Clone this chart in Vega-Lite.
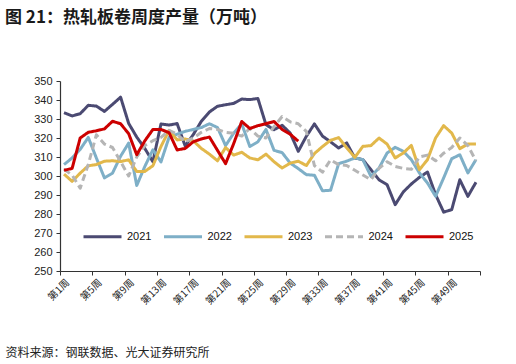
{
  "$schema": "https://vega.github.io/schema/vega-lite/v6.json",
  "width": 420,
  "height": 190,
  "autosize": "none",
  "padding": {"left": 60, "top": 81, "right": 36, "bottom": 93},
  "background": "white",
  "title": {
    "text": "图 21：热轧板卷周度产量（万吨）",
    "anchor": "start",
    "frame": "group",
    "dx": -55,
    "offset": 31,
    "baseline": "bottom",
    "font": "Noto Sans CJK SC",
    "fontSize": 17,
    "fontWeight": "bold",
    "color": "#1a1a1a"
  },
  "data": {
    "values": [
      {"week": 1, "2021": 333.3, "2022": 306, "2023": 301, "2024": 303.5, "2025": 303},
      {"week": 2, "2021": 331.6, "2022": 309.5, "2023": 297.2, "2024": 300.5, "2025": 304},
      {"week": 3, "2021": 332.8, "2022": 314, "2023": 301.5, "2024": 293.6, "2025": 320},
      {"week": 4, "2021": 337.2, "2022": 320.3, "2023": 305.4, "2024": 306, "2025": 323},
      {"week": 5, "2021": 336.8, "2022": 309.5, "2023": 306, "2024": 321.7, "2025": 323.8},
      {"week": 6, "2021": 334, "2022": 299, "2023": 307.8, "2024": 316.8, "2025": 324.8},
      {"week": 7, "2021": 337.7, "2022": 301.5, "2023": 308, "2024": 315, "2025": 328.8},
      {"week": 8, "2021": 341.5, "2022": 310.4, "2023": 307.6, "2024": 307.6, "2025": 327.5},
      {"week": 9, "2021": 327.7, "2022": 317.3, "2023": 308.5, "2024": 300, "2025": 322.3},
      {"week": 10, "2021": 320.5, "2022": 295, "2023": 302.4, "2024": 310, "2025": 311.2},
      {"week": 11, "2021": 314.5, "2022": 305, "2023": 302.4, "2024": 316, "2025": 318.5},
      {"week": 12, "2021": 307.5, "2022": 313.8, "2023": 305.4, "2024": 318.6, "2025": 324.5},
      {"week": 13, "2021": 327.4, "2022": 307.4, "2023": 315.5, "2024": 320.3, "2025": 324.5},
      {"week": 14, "2021": 326.8, "2022": 320.3, "2023": 324, "2024": 324, "2025": 322.8},
      {"week": 15, "2021": 327.6, "2022": 322, "2023": 319, "2024": 322, "2025": 313.7},
      {"week": 16, "2021": 315.8, "2022": 323.5, "2023": 319.5, "2024": 318, "2025": 314.5},
      {"week": 17, "2021": 321.8, "2022": 324.5, "2023": 318.5, "2024": 320, "2025": 318},
      {"week": 18, "2021": 328.8, "2022": 325.5, "2023": 314.5, "2024": 323, "2025": 319.5},
      {"week": 19, "2021": 333.7, "2022": 327.5, "2023": 311.5, "2024": 325, "2025": 320.5},
      {"week": 20, "2021": 336.7, "2022": 325.5, "2023": 308, "2024": 324.5, "2025": 313.5},
      {"week": 21, "2021": 337.5, "2022": 316, "2023": 315, "2024": 323, "2025": 306.5},
      {"week": 22, "2021": 338.2, "2022": 322.5, "2023": 311, "2024": 322.5, "2025": 317},
      {"week": 23, "2021": 340.5, "2022": 327.5, "2023": 312.5, "2024": 321, "2025": 328.7},
      {"week": 24, "2021": 340.2, "2022": 315.5, "2023": 309.5, "2024": 325, "2025": 325},
      {"week": 25, "2021": 340.8, "2022": 318, "2023": 308.5, "2024": 321, "2025": 326.5},
      {"week": 26, "2021": 327, "2022": 324.5, "2023": 311.5, "2024": 320, "2025": 327.5},
      {"week": 27, "2021": 324.4, "2022": 313.5, "2023": 307.5, "2024": 326, "2025": 328.7},
      {"week": 28, "2021": 326.7, "2022": 312.3, "2023": 304.2, "2024": 331.3, "2025": 324.5},
      {"week": 29, "2021": 322.6, "2022": 306.8, "2023": 306.8, "2024": 328.5, "2025": 322},
      {"week": 30, "2021": 313, "2022": 303.9, "2023": 307.8, "2024": 327.5, "2025": 318.3},
      {"week": 31, "2021": 320.9, "2022": 300.7, "2023": 305.5, "2024": 323.5},
      {"week": 32, "2021": 327.4, "2022": 300.4, "2023": 311.8, "2024": 305.5},
      {"week": 33, "2021": 321, "2022": 292.2, "2023": 315.5, "2024": 302},
      {"week": 34, "2021": 318, "2022": 292.5, "2023": 318.8, "2024": 308.5},
      {"week": 35, "2021": 314.7, "2022": 306.5, "2023": 320.2, "2024": 306},
      {"week": 36, "2021": 317.4, "2022": 307.8, "2023": 314.8, "2024": 305.5},
      {"week": 37, "2021": 309.5, "2022": 309.5, "2023": 309.8, "2024": 303},
      {"week": 38, "2021": 308.6, "2022": 308.6, "2023": 315.6, "2024": 300.5},
      {"week": 39, "2021": 303.3, "2022": 299.8, "2023": 316, "2024": 298},
      {"week": 40, "2021": 298, "2022": 304.2, "2023": 320, "2024": 304},
      {"week": 41, "2021": 295.4, "2022": 312.1, "2023": 316.8, "2024": 307.5},
      {"week": 42, "2021": 284.9, "2022": 315.1, "2023": 309.5, "2024": 305},
      {"week": 43, "2021": 291.6, "2022": 313, "2023": 312.1, "2024": 304},
      {"week": 44, "2021": 295.8, "2022": 308.6, "2023": 316.1, "2024": 303.5},
      {"week": 45, "2021": 299.3, "2022": 301.6, "2023": 303.3, "2024": 310},
      {"week": 46, "2021": 302.1, "2022": 296.3, "2023": 308.6, "2024": 311},
      {"week": 47, "2021": 290.2, "2022": 289.3, "2023": 320, "2024": 308},
      {"week": 48, "2021": 281, "2022": 299, "2023": 326.5, "2024": 312},
      {"week": 49, "2021": 282.3, "2022": 309.1, "2023": 322.6, "2024": 315},
      {"week": 50, "2021": 298, "2022": 311.2, "2023": 314.4, "2024": 320},
      {"week": 51, "2021": 289.3, "2022": 301.6, "2023": 316.8, "2024": 316},
      {"week": 52, "2021": 296.7, "2022": 308.6, "2023": 316.8, "2024": 308}
    ]
  },
  "transform": [
    {"fold": ["2021", "2022", "2023", "2024", "2025"], "as": ["year", "value"]},
    {"filter": "isValid(datum.value)"}
  ],
  "mark": {"type": "line", "strokeJoin": "round"},
  "encoding": {
    "x": {
      "field": "week",
      "type": "quantitative",
      "scale": {"domain": [0.5, 52.5], "nice": false, "zero": false},
      "axis": {
        "values": [0.5, 4.5, 8.5, 12.5, 16.5, 20.5, 24.5, 28.5, 32.5, 36.5, 40.5, 44.5, 48.5, 52.5],
        "labelExpr": "datum.value < 50 ? '第' + (datum.value + 0.5) + '周' : ''",
        "labelAngle": -45,
        "labelOffset": 4,
        "labelFont": "Noto Sans CJK SC",
        "labelFontSize": 10,
        "labelFlush": false,
        "labelOverlap": false,
        "title": "资料来源：钢联数据、光大证券研究所",
        "titleFont": "Noto Sans CJK SC",
        "titleFontSize": 12,
        "titleFontWeight": "normal",
        "titleColor": "#222222",
        "titleAnchor": "start",
        "titleAlign": "left",
        "titleAngle": 0,
        "titleBaseline": "middle",
        "titleX": -55,
        "titleY": 81
      }
    },
    "y": {
      "field": "value",
      "type": "quantitative",
      "scale": {"domain": [250, 350], "nice": false, "zero": false},
      "axis": {
        "values": [250, 260, 270, 280, 290, 300, 310, 320, 330, 340, 350],
        "title": null,
        "labelFont": "Liberation Sans",
        "labelFontSize": 11,
        "labelPadding": 4
      }
    },
    "color": {
      "field": "year",
      "type": "nominal",
      "scale": {
        "domain": ["2021", "2022", "2023", "2024", "2025"],
        "range": ["#4b4a72", "#7eafc7", "#e2b84b", "#b5b5b5", "#cc0000"]
      },
      "legend": {
        "orient": "none",
        "legendX": 22,
        "legendY": 135,
        "direction": "horizontal",
        "title": null,
        "symbolType": "stroke",
        "symbolSize": 1444,
        "symbolStrokeWidth": 4,
        "labelFont": "Liberation Sans",
        "labelFontSize": 11,
        "labelColor": "#111111",
        "labelOffset": 4,
        "columnPadding": 5.5
      }
    },
    "strokeDash": {
      "field": "year",
      "type": "nominal",
      "scale": {
        "domain": ["2021", "2022", "2023", "2024", "2025"],
        "range": [[1, 0], [1, 0], [1, 0], [7, 4], [1, 0]]
      },
      "legend": null
    },
    "strokeWidth": {
      "field": "year",
      "type": "nominal",
      "scale": {
        "domain": ["2021", "2022", "2023", "2024", "2025"],
        "range": [3, 3, 3, 3.2, 5]
      },
      "legend": null
    }
  },
  "config": {
    "axis": {
      "grid": false,
      "domainColor": "#333333",
      "tickColor": "#333333",
      "labelColor": "#222222",
      "tickSize": 4,
      "domainWidth": 1.2
    },
    "view": {"stroke": null}
  }
}
